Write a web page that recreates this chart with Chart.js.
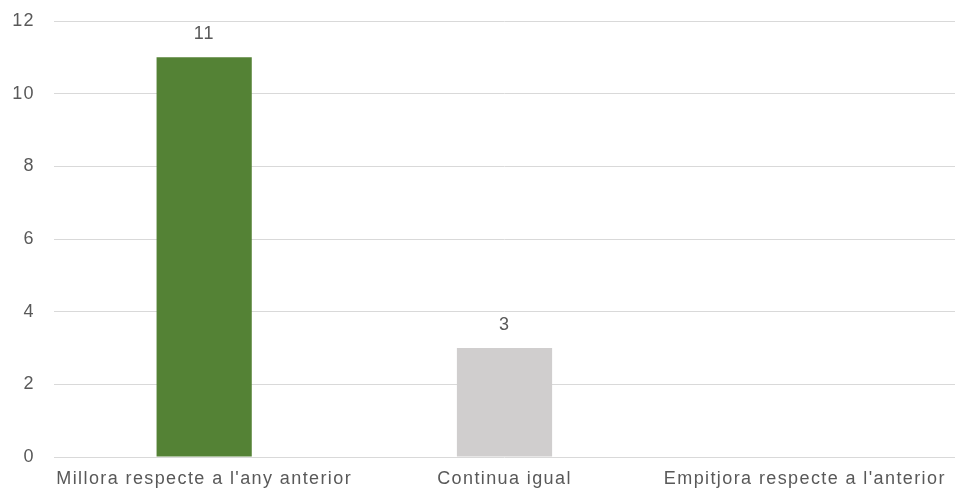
<!DOCTYPE html>
<html>
<head>
<meta charset="utf-8">
<script src="https://cdn.jsdelivr.net/npm/chart.js@4"></script>
<style>
  html, body { margin: 0; padding: 0; background: #fff; }
  #wrap { width: 955px; height: 495px; }
</style>
</head>
<body>
<div id="wrap"><canvas id="chart"></canvas></div>
<script>
const categories = ["Millora respecte a l'any anterior", 'Continua igual', "Empitjora respecte a l'anterior"];
const counts = [11, 3, 0];
const barColors = ['#548235', '#d0cece', '#a5a5a5'];

const fontFamily = '"Liberation Sans", Arial, sans-serif';

// a bit of letter spacing, the original text is spread out
const spacing = {
  id: 'spacing',
  beforeDraw(chart){ chart.ctx.letterSpacing = '1.4px'; }
};

// draws the value above each bar, skipping zeros
const valueLabels = {
  id: 'valueLabels',
  afterDatasetsDraw(chart){
    const ctx = chart.ctx;
    const meta = chart.getDatasetMeta(0);
    ctx.save();
    ctx.letterSpacing = '1px';
    ctx.font = '18px ' + fontFamily;
    ctx.fillStyle = '#595959';
    ctx.textAlign = 'center';
    ctx.textBaseline = 'alphabetic';
    meta.data.forEach((bar, i) => {
      if (counts[i] == 0) return;
      ctx.fillText(String(counts[i]), bar.x, bar.y - 18);
    });
    ctx.restore();
  }
};

new Chart(document.getElementById('chart'), {
  type: 'bar',
  data: {
    labels: categories,
    datasets: [{
      data: counts,
      backgroundColor: barColors,
      categoryPercentage: 1,
      barPercentage: 0.317
    }]
  },
  options: {
    responsive: true,
    maintainAspectRatio: false,
    animation: false,
    layout: { padding: { top: 21, right: 0, left: 0, bottom: 0 } },
    plugins: { legend: { display: false }, tooltip: { enabled: false } },
    scales: {
      x: {
        grid: { display: false, drawTicks: false },
        border: { display: false },
        ticks: {
          color: '#595959',
          font: { family: fontFamily, size: 18 },
          padding: 11,
          maxRotation: 0,
          autoSkip: false
        },
        afterFit(scale){ scale.height = 38; }
      },
      y: {
        min: 0,
        max: 12,
        grid: { color: '#d9d9d9', lineWidth: 1, drawTicks: false },
        border: { display: false },
        ticks: {
          stepSize: 2,
          color: '#595959',
          font: { family: fontFamily, size: 18 },
          padding: 19
        },
        afterFit(scale){
          scale.width = 54;
          scale.paddingTop = 0;
          scale.paddingBottom = 0;
        }
      }
    }
  },
  plugins: [spacing, valueLabels]
});
</script>
</body>
</html>
